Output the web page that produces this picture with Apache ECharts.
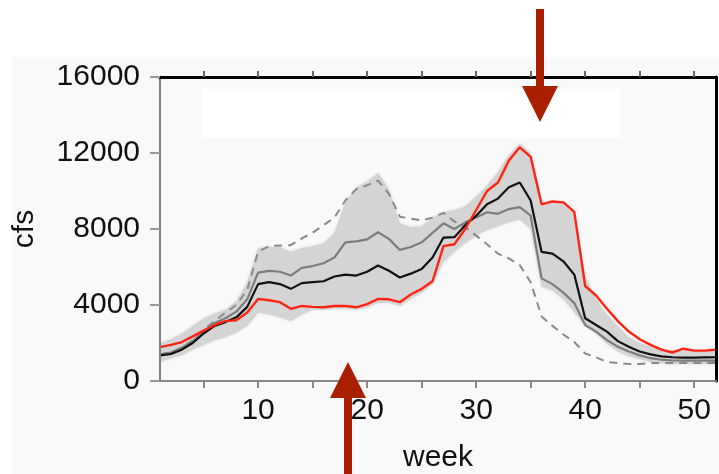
<!DOCTYPE html>
<html>
<head>
<meta charset="utf-8">
<script src="https://cdn.jsdelivr.net/npm/echarts@6/dist/echarts.min.js"></script>
<style>
  html, body { margin: 0; padding: 0; background: #ffffff; }
  #chart { width: 719px; height: 474px; }
</style>
</head>
<body>
<div id="chart"></div>
<script>
// ---- data ----
const weeks = [1,2,3,4,5,6,7,8,9,10,11,12,13,14,15,16,17,18,19,20,21,22,23,24,25,26,
               27,28,29,30,31,32,33,34,35,36,37,38,39,40,41,42,43,44,45,46,47,48,49,50,51,52];

const redYear = [1780,1900,2050,2350,2650,2950,3150,3200,3600,4320,4250,4150,3800,3950,3900,3880,
                 3950,3950,3880,4050,4320,4300,4150,4550,4850,5250,7100,7200,8000,9000,10000,10450,
                 11600,12300,11800,9300,9450,9400,8900,5000,4500,3800,3150,2600,2200,1900,1650,1500,
                 1700,1600,1600,1650];

const medianLine = [1350,1420,1650,2000,2500,2900,3100,3350,3900,5100,5200,5100,4850,5150,5200,5250,
                    5500,5600,5550,5750,6080,5800,5450,5650,5900,6500,7550,7570,8200,8700,9300,9600,
                    10200,10450,9500,6800,6700,6300,5600,3300,2950,2600,2100,1800,1550,1400,1300,1250,
                    1230,1230,1240,1250];

const grayLine = [1400,1500,1750,2100,2600,3050,3300,3650,4300,5700,5800,5750,5550,5950,6050,6200,
                  6500,7300,7350,7450,7830,7480,6900,7050,7300,7800,8300,8000,8350,8600,8880,8800,
                  9050,9150,8700,5400,5100,4650,4100,2950,2600,2150,1800,1550,1350,1200,1120,1080,
                  1070,1070,1070,1070];

const dashedLine = [1400,1500,1750,2150,2700,3150,3600,4000,4800,6800,7100,7130,7150,7500,7800,8200,
                    8600,9500,10100,10300,10550,9850,8650,8550,8450,8600,8850,8400,8100,7650,7200,6700,
                    6450,6100,5200,3400,2900,2450,2050,1450,1250,1000,950,900,900,950,950,950,
                    950,950,950,950];

const bandLow = [1000,1200,1350,1650,1900,2150,2300,2550,2900,3600,3500,3350,3150,3500,3750,3750,
                 3800,3800,3750,3850,4100,4100,3950,4300,4650,5100,6250,6800,7250,7650,7950,8150,
                 8350,8500,8000,4950,4750,4300,3600,2900,2500,1950,1550,1300,1150,1000,950,900,
                 900,900,900,900];

const bandHigh = [2000,2200,2500,2900,3300,3550,3750,4200,5200,7000,7050,7050,6800,7000,7100,7250,
                  7800,9400,10200,10500,10950,10100,8300,8100,8150,8600,8900,9000,9200,9700,10300,11000,
                  11900,12500,12000,9400,9500,9300,8800,5500,4300,3500,2900,2300,2000,1800,1650,1600,
                  1600,1600,1600,1600];

const yTickValues = [0, 4000, 8000, 12000, 16000];
const xTickValues = [5,10,15,20,25,30,35,40,45,50];
const xLabelValues = [10,20,30,40,50];

// ---- chart ----
const FONT = 'Liberation Sans, Arial, Helvetica, sans-serif';
const bandDiff = bandHigh.map((v, i) => v - bandLow[i]);
const ARROW = '#a91f00';
const isTick = (idx, val) => xTickValues.indexOf(Number(val)) >= 0;
const isLabel = (idx, val) => xLabelValues.indexOf(Number(val)) >= 0;

const chart = echarts.init(document.getElementById('chart'), null, { renderer: 'canvas' });

chart.setOption({
  backgroundColor: '#ffffff',
  animation: false,
  grid: { left: 160, right: 3, top: 77, bottom: 93, show: false, containLabel: false, outerBoundsMode: 'none' },
  xAxis: [
    {
      type: 'category', data: weeks, boundaryGap: false, position: 'bottom', z: 10,
      axisLine: { show: true, onZero: false, lineStyle: { color: '#888', width: 2 } },
      axisTick: { show: true, interval: isTick, length: 7, lineStyle: { color: '#888', width: 2 } },
      axisLabel: { interval: isLabel, fontSize: 30, color: '#111', margin: 15, fontFamily: FONT },
      splitLine: { show: false },
      name: 'week', nameLocation: 'middle', nameGap: 62,
      nameTextStyle: { fontSize: 30, color: '#111', fontFamily: FONT }
    },
    {
      type: 'category', data: weeks, boundaryGap: false, position: 'top', z: 10,
      axisLine: { show: true, onZero: false, lineStyle: { color: '#000', width: 3 } },
      axisTick: { show: true, interval: isTick, length: 6, lineStyle: { color: '#666', width: 2 } },
      axisLabel: { show: false },
      splitLine: { show: false }
    }
  ],
  yAxis: [
    {
      type: 'value', min: 0, max: 16000, interval: 4000, position: 'left', z: 10,
      axisLine: { show: true, onZero: false, lineStyle: { color: '#808080', width: 2 } },
      axisTick: { show: true, length: 10, lineStyle: { color: '#999', width: 2 } },
      axisLabel: { fontSize: 30, color: '#111', margin: 20, fontFamily: FONT, formatter: v => String(v) },
      splitLine: { show: false },
      name: 'cfs', nameLocation: 'middle', nameGap: 120,
      nameTextStyle: { fontSize: 30, color: '#111', fontFamily: FONT }
    },
    {
      type: 'value', min: 0, max: 16000, interval: 4000, position: 'right', z: 10,
      axisLine: { show: true, onZero: false, lineStyle: { color: '#000', width: 3 } },
      axisTick: { show: false }, axisLabel: { show: false }, splitLine: { show: false }
    }
  ],
  series: [
    {
      name: 'bandLow', type: 'line', stack: 'band', data: bandLow,
      symbol: 'none', silent: true, lineStyle: { opacity: 0 }, z: 1
    },
    {
      name: 'band', type: 'line', stack: 'band', data: bandDiff,
      symbol: 'none', silent: true, lineStyle: { opacity: 0 },
      areaStyle: { color: '#d4d4d4', opacity: 1, shadowBlur: 3, shadowColor: '#dcdcdc' }, z: 1
    },
    {
      name: 'dashed', type: 'line', data: dashedLine, symbol: 'none',
      lineStyle: { color: '#8a8a8a', width: 2, type: [8, 6] }, z: 2
    },
    {
      name: 'gray', type: 'line', data: grayLine, symbol: 'none',
      lineStyle: { color: '#7d7d7d', width: 2.2 }, z: 3
    },
    {
      name: 'median', type: 'line', data: medianLine, symbol: 'none',
      lineStyle: { color: '#111111', width: 2.2 }, z: 4
    },
    {
      name: 'red', type: 'line', data: redYear, symbol: 'none',
      lineStyle: { color: '#ff2412', width: 2.4 }, z: 5
    }
  ],
  graphic: [
    { type: 'rect', z: -10, silent: true, shape: { x: 12, y: 57, width: 707, height: 417 }, style: { fill: '#f9f9f9' } },
    { type: 'rect', z: -5, silent: true, shape: { x: 202, y: 89, width: 418, height: 49 }, style: { fill: '#ffffff' } },
    // top arrow
    { type: 'rect', z: 100, silent: true, shape: { x: 536, y: 9, width: 8, height: 78 }, style: { fill: ARROW } },
    { type: 'polygon', z: 100, silent: true, shape: { points: [[522, 86], [558, 86], [540, 122]] }, style: { fill: ARROW } },
    // bottom arrow
    { type: 'rect', z: 100, silent: true, shape: { x: 344, y: 396, width: 8, height: 78 }, style: { fill: ARROW } },
    { type: 'polygon', z: 100, silent: true, shape: { points: [[330, 398], [366, 398], [348, 362]] }, style: { fill: ARROW } }
  ]
});
</script>
</body>
</html>
